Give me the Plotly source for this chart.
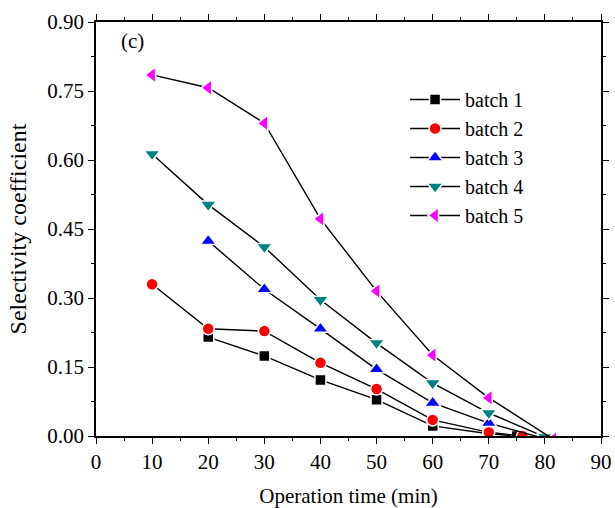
import plotly.graph_objects as go

# Selectivity coefficient vs. operation time for five batches
time_b1 = [20, 30, 40, 50, 60, 70, 75]
sel_b1 = [0.215, 0.174, 0.122, 0.079, 0.022, 0.005, 0.0]

time_b2 = [10, 20, 30, 40, 50, 60, 70, 76]
sel_b2 = [0.330, 0.233, 0.228, 0.159, 0.102, 0.035, 0.008, 0.0]

time_b3 = [20, 30, 40, 50, 60, 70, 79.5]
sel_b3 = [0.424, 0.319, 0.233, 0.145, 0.072, 0.028, -0.004]

time_b4 = [10, 20, 30, 40, 50, 60, 70, 80]
sel_b4 = [0.613, 0.503, 0.411, 0.296, 0.202, 0.115, 0.050, -0.002]

time_b5 = [10, 20, 30, 40, 50, 60, 70, 81.5]
sel_b5 = [0.785, 0.757, 0.680, 0.472, 0.315, 0.176, 0.083, -0.007]

series = [
    ("batch 1", time_b1, sel_b1, "square", "#000000", 11),
    ("batch 2", time_b2, sel_b2, "circle", "#ff0000", 12),
    ("batch 3", time_b3, sel_b3, "triangle-up", "#0000ff", 14),
    ("batch 4", time_b4, sel_b4, "triangle-down", "#008080", 14),
    ("batch 5", time_b5, sel_b5, "triangle-left", "#ff00ff", 14),
]

x_ticks = list(range(0, 91, 10))
y_ticks = [0.0, 0.15, 0.30, 0.45, 0.60, 0.75, 0.90]

fig = go.Figure()
for name, x, y, sym, col, size in series:
    fig.add_trace(go.Scatter(
        x=x, y=y, name=name, mode="lines+markers",
        line=dict(color="black", width=1.4),
        marker=dict(symbol=sym, color=col, size=size,
                    line=dict(color="white", width=1.5)),
        cliponaxis=True,
    ))

font = "Liberation Serif, Times New Roman, serif"
axis_common = dict(
    showline=True, linecolor="black", linewidth=1.6, mirror="allticks",
    ticks="outside", ticklen=6, tickwidth=1.4, tickcolor="black",
    showgrid=False, zeroline=False, automargin=False,
    tickfont=dict(family=font, size=21, color="black"),
)

fig.update_xaxes(
    range=[0, 90], tickvals=x_ticks, ticktext=[str(v) for v in x_ticks],
    minor=dict(ticks="outside", ticklen=3, tickwidth=1.2, dtick=5, tickcolor="black"),
    title=dict(text="Operation time (min)", font=dict(family=font, size=21, color="black"), standoff=26),
    **axis_common,
)
fig.update_yaxes(
    range=[0, 0.90], tickvals=y_ticks, ticktext=[f"{v:.2f}" for v in y_ticks],
    minor=dict(ticks="outside", ticklen=3, tickwidth=1.2, dtick=0.075, tickcolor="black"),
    title=dict(text="Selectivity coefficient", font=dict(family=font, size=24, color="black"), standoff=14),
    **axis_common,
)

fig.add_annotation(
    x=0.045, y=0.955, xref="paper", yref="paper", text="(c)", showarrow=False,
    xanchor="left", yanchor="middle",
    font=dict(family=font, size=21, color="black"),
)

fig.update_layout(
    width=615, height=508,
    margin=dict(l=96, r=14, t=22, b=72),
    paper_bgcolor="white", plot_bgcolor="white",
    legend=dict(
        x=0.612, y=0.86, xanchor="left", yanchor="top",
        font=dict(family=font, size=20, color="black"),
        bgcolor="rgba(0,0,0,0)", itemwidth=50, tracegroupgap=0,
    ),
    showlegend=True,
)

fig.write_html("out.html")
